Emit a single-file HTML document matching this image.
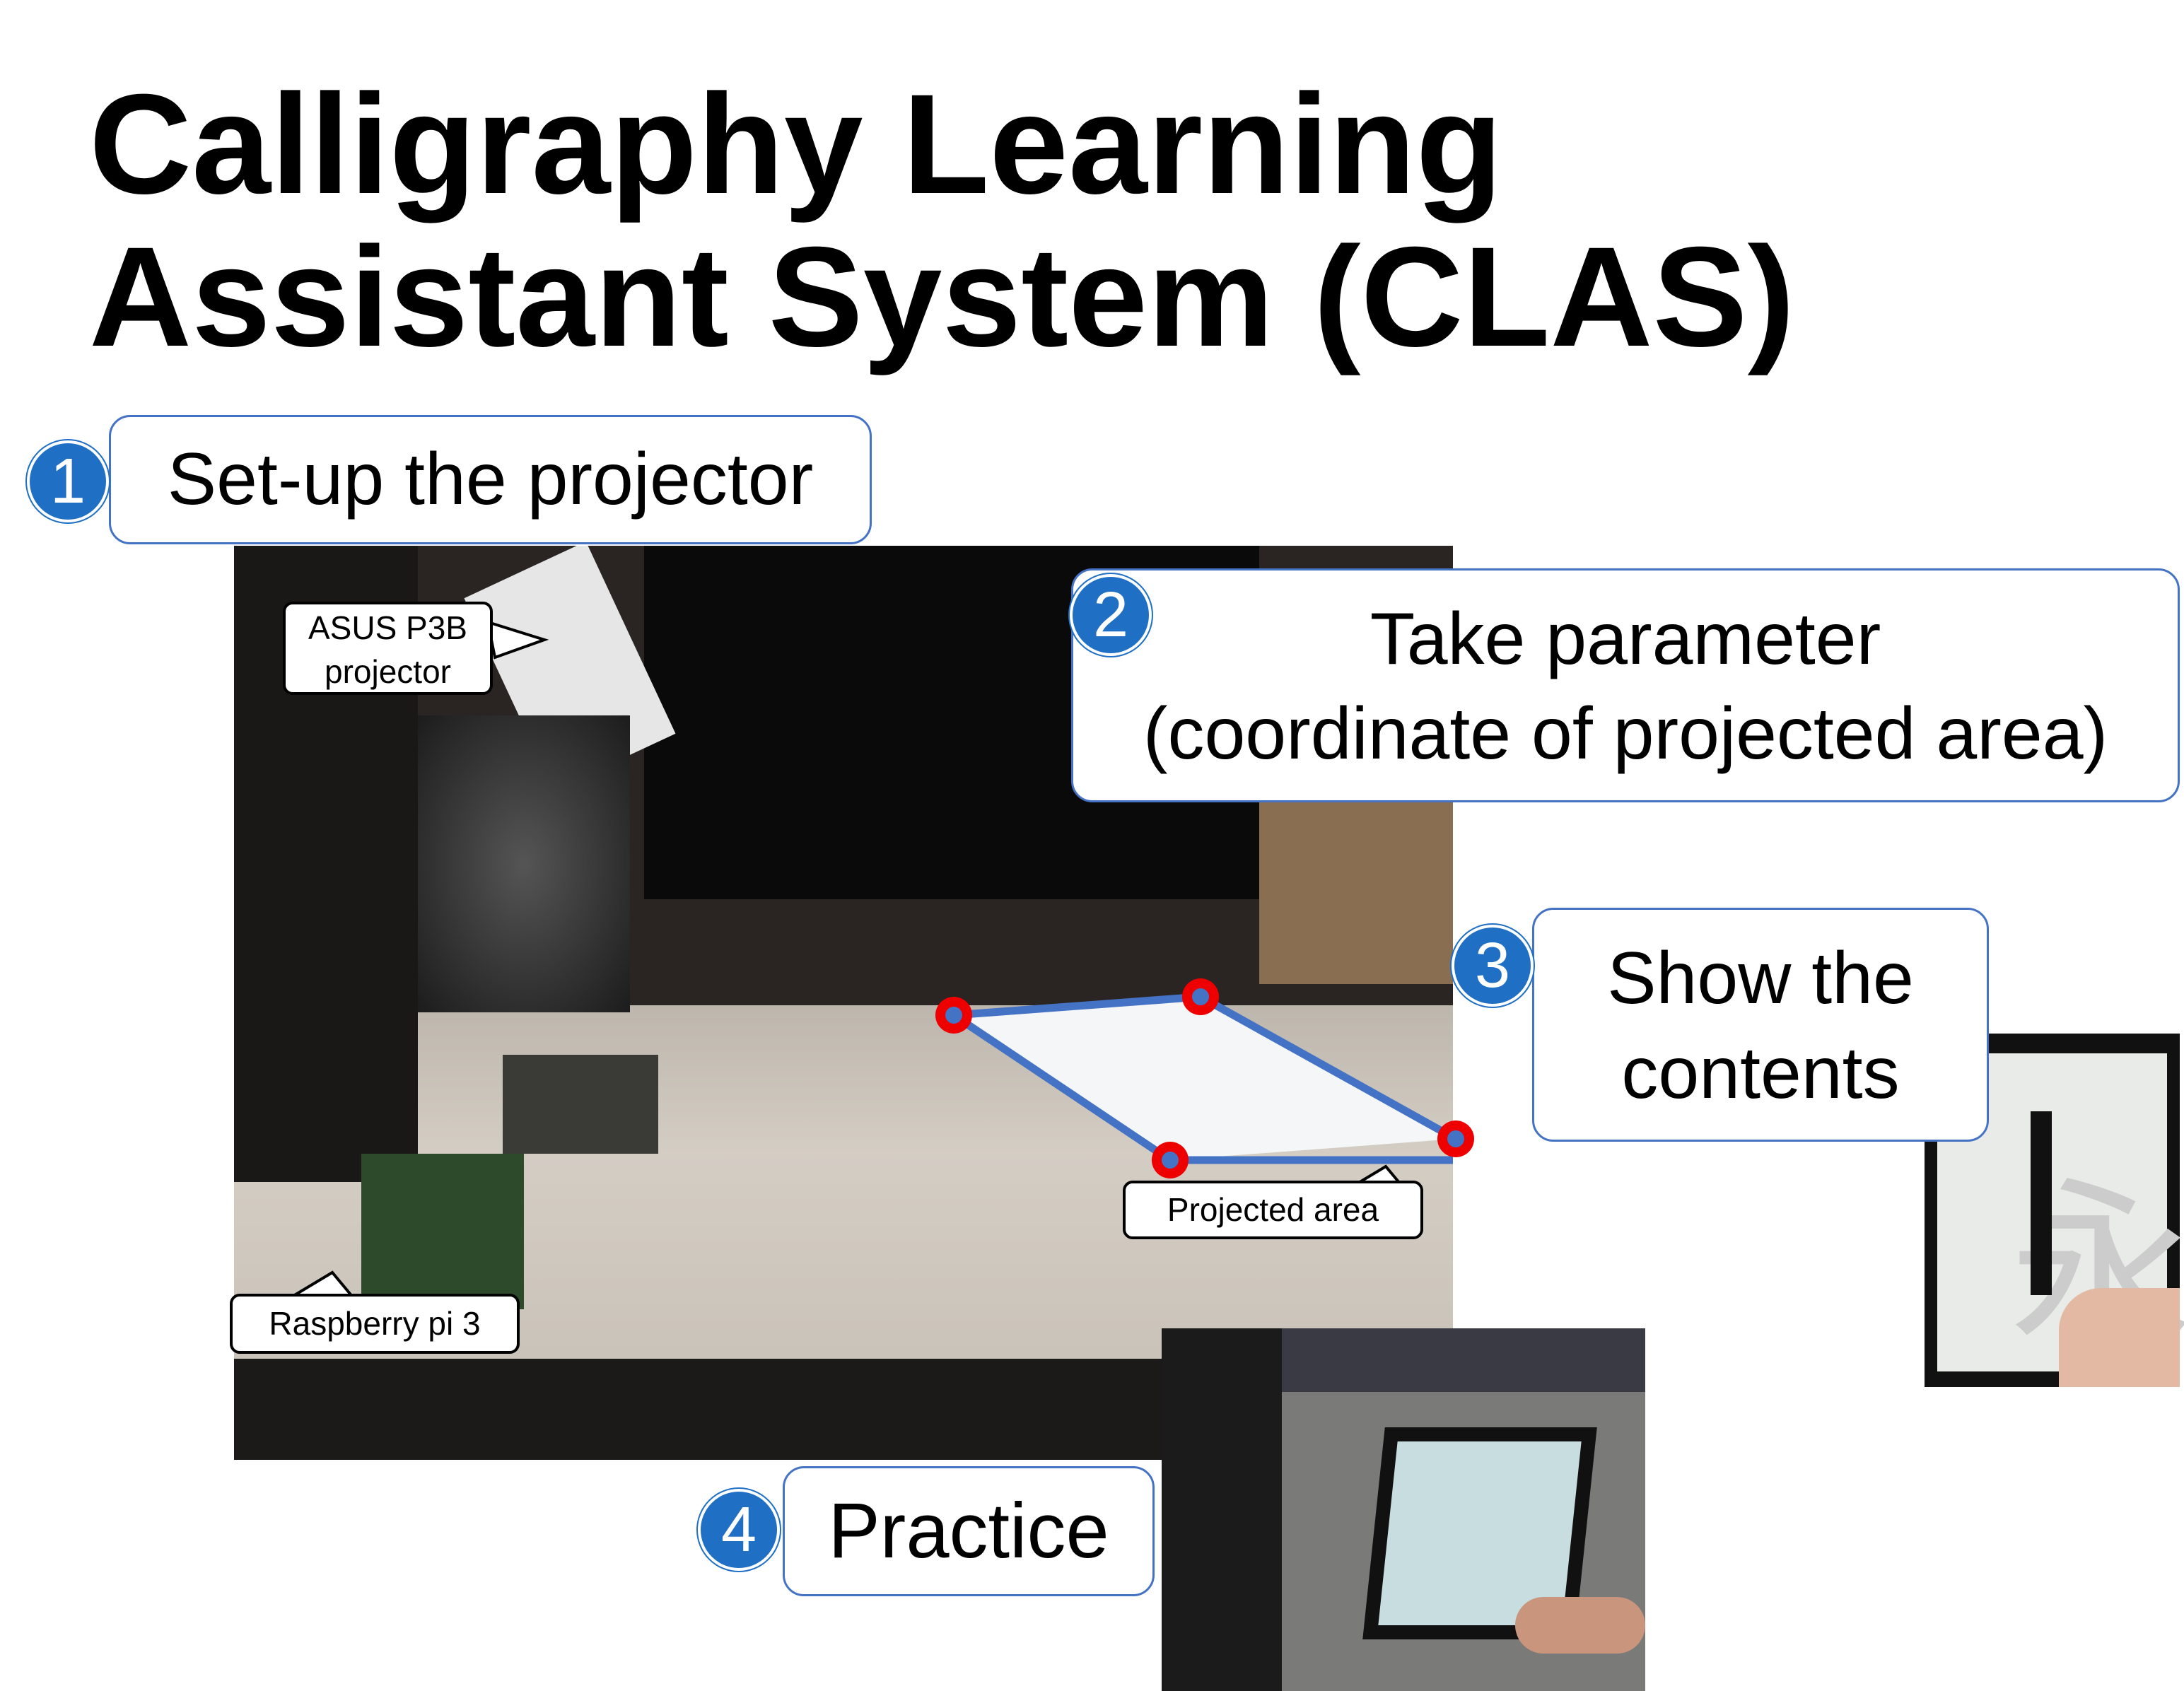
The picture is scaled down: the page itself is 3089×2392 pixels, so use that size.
<!DOCTYPE html>
<html><head><meta charset="utf-8"><style>
body{margin:0;width:3089px;height:2392px;background:#fff;position:relative;overflow:hidden;font-family:"Liberation Sans",Arial,sans-serif}
.a{position:absolute}
.box{position:absolute;border:3px solid #4472c4;border-radius:30px;background:#fff;box-sizing:border-box;color:#000;text-align:center}
.c{position:absolute;width:108px;height:108px;border-radius:50%;background:#1f6fc5;border:4px solid #fff;box-shadow:0 0 0 2px #1f6fc5;color:#fff;font-size:90px;line-height:108px;text-align:center;box-sizing:content-box}
.call{position:absolute;background:#fff;border:4px solid #000;border-radius:14px;font-size:46px;text-align:center;box-sizing:border-box}
</style></head><body>
<div class="a" style="left:126px;top:96px;font-size:201px;font-weight:bold;line-height:216px;letter-spacing:0px">Calligraphy Learning<br>Assistant System (CLAS)</div>

<div class="a" style="left:331px;top:772px;width:1724px;height:1293px;background:#2a2522;overflow:hidden">
 <div class="a" style="left:0;top:650px;width:1724px;height:520px;background:linear-gradient(180deg,#bdb6ad,#d4cdc4 40%,#c9c2b8)"></div>
 <div class="a" style="left:0;top:1150px;width:1724px;height:143px;background:#1c1a18"></div>
 <div class="a" style="left:580px;top:0;width:870px;height:500px;background:#0a0a0b"></div>
 <div class="a" style="left:1450px;top:360px;width:274px;height:260px;background:#8a6e52"></div>
 <div class="a" style="left:0;top:0;width:260px;height:900px;background:#1a1816"></div>
 <div class="a" style="left:380px;top:720px;width:220px;height:140px;background:#3a3a36"></div>
 <div class="a" style="left:180px;top:860px;width:230px;height:220px;background:#2d4a2a"></div>
 <div class="a" style="left:380px;top:20px;width:190px;height:300px;background:#e6e6e6;transform:rotate(-25deg)"></div>
 <div class="a" style="left:260px;top:240px;width:300px;height:420px;background:radial-gradient(#555,#1c1c1c)"></div>
</div>
<svg class="a" style="left:0;top:0" width="3089" height="2392">
 <polygon points="1349,1436 1698,1410 2059,1611 1655,1641" fill="#f4f6f8"/>
 <polyline points="1349,1436 1698,1410 2059,1611" fill="none" stroke="#4472c4" stroke-width="11"/>
 <polyline points="1349,1436 1655,1641 2055,1641" fill="none" stroke="#4472c4" stroke-width="11"/>
 <g fill="#e00">
  <circle cx="1349" cy="1436" r="26"/><circle cx="1698" cy="1410" r="26"/><circle cx="2059" cy="1611" r="26"/><circle cx="1655" cy="1641" r="26"/>
 </g>
 <g fill="#4472c4">
  <circle cx="1349" cy="1436" r="12"/><circle cx="1698" cy="1410" r="12"/><circle cx="2059" cy="1611" r="12"/><circle cx="1655" cy="1641" r="12"/>
 </g>
 <polygon points="700,930 770,905 690,880" fill="#fff" stroke="#000" stroke-width="4"/>
 <polygon points="410,1836 470,1800 500,1836" fill="#fff" stroke="#000" stroke-width="4"/>
 <polygon points="1920,1674 1960,1650 1980,1674" fill="#fff" stroke="#000" stroke-width="4"/>
</svg>
<div class="call" style="left:400px;top:851px;width:297px;height:132px;line-height:62px;padding-top:2px">ASUS P3B<br>projector</div>
<div class="call" style="left:325px;top:1830px;width:410px;height:85px;line-height:77px">Raspberry pi 3</div>
<div class="call" style="left:1588px;top:1670px;width:425px;height:83px;line-height:75px">Projected area</div>

<div class="a" style="left:2722px;top:1462px;width:361px;height:500px;background:#111">
 <div class="a" style="left:18px;top:28px;width:325px;height:450px;background:#e8ebe8"></div>
 <div class="a" style="left:120px;top:120px;font-size:260px;color:#ccc;font-family:'Noto Sans CJK SC',sans-serif">永</div>
 <div class="a" style="left:150px;top:110px;width:30px;height:260px;background:#111"></div>
 <div class="a" style="left:190px;top:360px;width:171px;height:140px;background:#e3b9a3;border-radius:60px 0 0 0"></div>
</div>
<div class="a" style="left:1643px;top:1879px;width:684px;height:513px;background:#7a7a78;overflow:hidden">
 <div class="a" style="left:0;top:0;width:684px;height:90px;background:#3a3a44"></div>
 <div class="a" style="left:0;top:0;width:170px;height:513px;background:#1b1b1b"></div>
 <div class="a" style="left:300px;top:140px;width:300px;height:300px;background:#111;transform:skewX(-6deg)"></div>
 <div class="a" style="left:320px;top:160px;width:260px;height:260px;background:#c8dde0;transform:skewX(-6deg)"></div>
 <div class="a" style="left:500px;top:380px;width:184px;height:80px;background:#c9957d;border-radius:40px"></div>
</div>

<div class="box" style="left:154px;top:587px;width:1079px;height:183px;font-size:104px;line-height:177px">Set-up the projector</div>
<div class="c" style="left:38px;top:623px">1</div>
<div class="box" style="left:1515px;top:804px;width:1568px;height:331px;font-size:104px;line-height:134px;padding-top:30px">Take parameter<br>(coordinate of projected area)</div>
<div class="c" style="left:1513px;top:812px">2</div>
<div class="box" style="left:2167px;top:1284px;width:646px;height:331px;font-size:104px;line-height:134px;padding-top:30px">Show the<br>contents</div>
<div class="c" style="left:2053px;top:1308px">3</div>
<div class="box" style="left:1107px;top:2074px;width:526px;height:184px;font-size:110px;line-height:178px">Practice</div>
<div class="c" style="left:987px;top:2106px">4</div>
</body></html>
